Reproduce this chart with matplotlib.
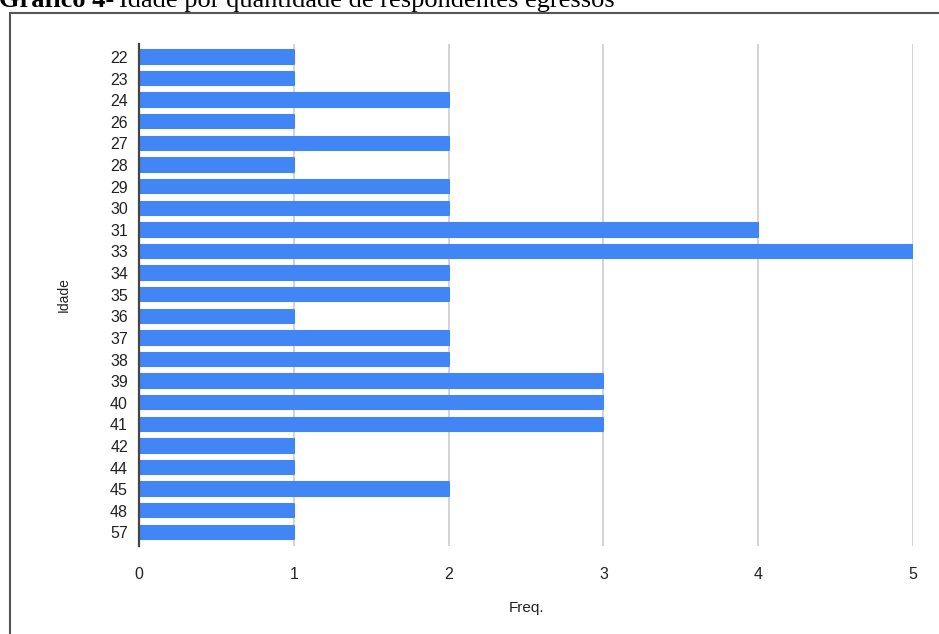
import matplotlib.pyplot as plt
from matplotlib.patches import Rectangle

# idade x quantidade de respondentes
idades = ["22", "23", "24", "26", "27", "28", "29", "30", "31", "33", "34", "35",
          "36", "37", "38", "39", "40", "41", "42", "44", "45", "48", "57"]
freq = [1, 1, 2, 1, 2, 1, 2, 2, 4, 5, 2, 2, 1, 2, 2, 3, 3, 3, 1, 1, 2, 1, 1]

plt.rcParams["font.family"] = ["Liberation Sans", "DejaVu Sans"]

fig = plt.figure(figsize=(9.39, 6.34), dpi=100)
ax = fig.add_axes([139 / 939, 1 - 546 / 634, (913 - 139) / 939, (546 - 44) / 634])

pos = list(range(len(idades)))
ax.barh(pos, freq, height=0.62, color="#4285F4", edgecolor="#4285F4",
        linewidth=1.5, joinstyle="round", zorder=3)

ax.set_yticks(pos)
ax.set_yticklabels(idades)
ax.set_ylim(len(idades) - 1 + 0.63, -0.6)
ax.set_xlim(0, 5)
ax.set_xticks([0, 1, 2, 3, 4, 5])

ax.grid(axis="x", color="#cccccc", linewidth=1.2, zorder=0)
for s in ["top", "right", "bottom"]:
    ax.spines[s].set_visible(False)
ax.spines["left"].set_color("#444444")
ax.spines["left"].set_linewidth(1.6)
ax.spines["left"].set_zorder(4)

ax.tick_params(axis="both", length=0, labelsize=11.5, colors="#222222")
ax.tick_params(axis="y", pad=8)
ax.tick_params(axis="x", pad=15)

ax.set_xlabel("Freq.", fontsize=11, labelpad=14, color="#222222")
ax.set_ylabel("Idade", fontsize=10, labelpad=28, color="#222222")

# moldura em volta do grafico
fig.patches.append(Rectangle((10 / 939, -0.1), 1.2, 1.1 - 13 / 634,
                             transform=fig.transFigure, fill=False,
                             edgecolor="#555555", linewidth=1.5))

# titulo: parte em negrito + resto normal
t1 = fig.text(-0.001, 1 - 7 / 634, "Gráfico 4-", family="Liberation Serif",
              weight="bold", fontsize=19, va="baseline", ha="left")
fig.canvas.draw()
bb = t1.get_window_extent()
fig.text(bb.x1 / fig.bbox.width + 0.005, 1 - 7 / 634,
         "Idade por quantidade de respondentes egressos",
         family="Liberation Serif", fontsize=19, va="baseline", ha="left")

fig.savefig("out.png", dpi=100)
